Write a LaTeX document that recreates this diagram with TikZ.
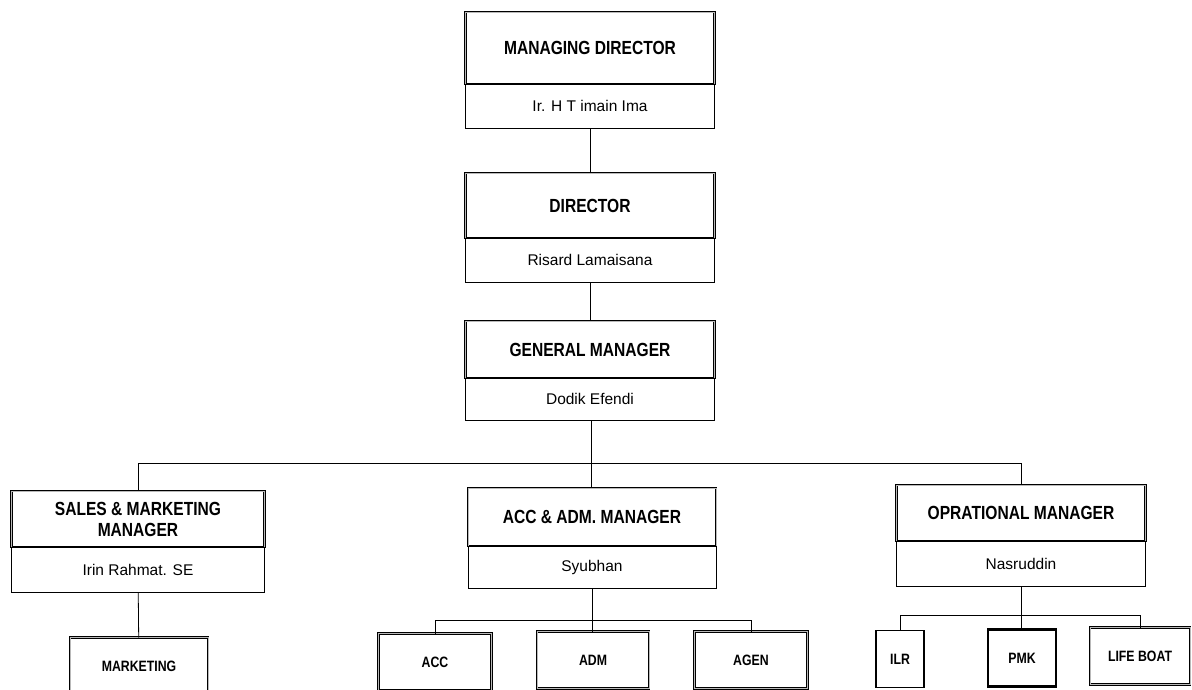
\documentclass[tikz,border=0pt]{standalone}
\usepackage{fontspec}
\setmainfont{Liberation Sans}
\newfontfamily\condfont{Liberation Sans}[FakeStretch=0.82]
\usepackage{tikz}
\usetikzlibrary{positioning}
\tikzset{
  titlebox/.style={rectangle, draw, double=gray!55, double distance=0.9pt,
    line width=0.7pt, align=center, inner sep=0pt, outer sep=0pt,
    font=\condfont\bfseries\fontsize{19}{21}\selectfont},
  namebox/.style={rectangle, draw, line width=0.8pt, align=center,
    inner sep=0pt, outer sep=0pt, font=\fontsize{15.5}{17}\selectfont},
  unitbox/.style={rectangle, draw, double=gray!55, double distance=0.8pt,
    line width=0.7pt, align=center, inner sep=0pt, outer sep=0pt,
    minimum height=57pt, text depth=0pt, font=\condfont\bfseries\fontsize{15}{17}\selectfont},
  line/.style={line width=0.8pt, color=black}
}
\begin{document}
\begin{tikzpicture}[x=1pt, y=-1pt]
  \useasboundingbox (0,0) rectangle (1192,689);
  \clip (0,0) rectangle (1192,689);

  % Top of the chart
  \node[titlebox, minimum width=249pt, minimum height=72pt] (md) at (590,48) {MANAGING DIRECTOR};
  \node[namebox, minimum width=249pt, minimum height=44pt, below=0pt of md] (mdname) {Ir. H T imain Ima};
  \node[titlebox, minimum width=249pt, minimum height=65pt] (dir) at (590,205.5) {DIRECTOR};
  \node[namebox, minimum width=249pt, minimum height=44pt, below=0pt of dir] (dirname) {Risard Lamaisana};
  \node[titlebox, minimum width=249pt, minimum height=57pt] (gm) at (590,349.5) {GENERAL MANAGER};
  \node[namebox, minimum width=249pt, minimum height=42pt, below=0pt of gm] (gmname) {Dodik Efendi};

  % Managers
  \node[titlebox, minimum width=253pt, minimum height=56pt] (sales) at (138,519) {SALES \& MARKETING\\MANAGER};
  \node[namebox, minimum width=253pt, minimum height=45pt, below=0pt of sales] (salesname) {Irin Rahmat. SE};
  \node[titlebox, minimum width=248pt, minimum height=58pt] (accadm) at (592,517) {ACC \& ADM. MANAGER};
  \node[namebox, minimum width=248pt, minimum height=42pt, below=0pt of accadm] (accadmname) {Syubhan};
  \node[titlebox, minimum width=249pt, minimum height=56pt] (opr) at (1021,513) {OPRATIONAL MANAGER};
  \node[namebox, minimum width=249pt, minimum height=45pt, below=0pt of opr] (oprname) {Nasruddin};

  % Units
  \node[unitbox, minimum width=138pt] (mkt) at (139,666) {MARKETING};
  \node[unitbox, minimum width=113pt] (acc) at (435,662) {ACC};
  \node[unitbox, minimum width=112pt] (adm) at (593,660) {ADM};
  \node[unitbox, minimum width=113pt] (agen) at (751,660) {AGEN};
  \node[unitbox, minimum width=48pt, double=none, line width=1.3pt] (ilr) at (900,659) {ILR};
  \node[unitbox, minimum width=68pt, double=none, line width=2.2pt] (pmk) at (1022,658) {PMK};
  \node[unitbox, minimum width=100pt] (lifeboat) at (1140,656) {LIFE BOAT};

  % Bus points
  \coordinate (gmbus) at (591,463);
  \coordinate (accbus) at (592,620);
  \coordinate (oprbus) at (1021,615);

  % Lines
  \draw[line] (mdname) -- (dir);
  \draw[line] (dirname) -- (gm);
  \draw[line] (gmname.south -| gmbus) -- (gmbus);
  \draw[line] (gmbus) -| (sales.north);
  \draw[line] (gmbus) -| (opr.north);
  \draw[line] (gmbus) -- (accadm.north -| gmbus);
  \draw[line] (salesname) -- (mkt);
  \draw[line] (accadmname.south) -- (accbus);
  \draw[line] (accbus) -| (acc.north);
  \draw[line] (accbus) -| (agen.north);
  \draw[line] (accbus) -- (adm.north -| accbus);
  \draw[line] (oprname.south) -- (oprbus);
  \draw[line] (oprbus) -| (ilr.north);
  \draw[line] (oprbus) -| (lifeboat.north);
  \draw[line] (oprbus) -- (pmk.north -| oprbus);
\end{tikzpicture}
\end{document}
